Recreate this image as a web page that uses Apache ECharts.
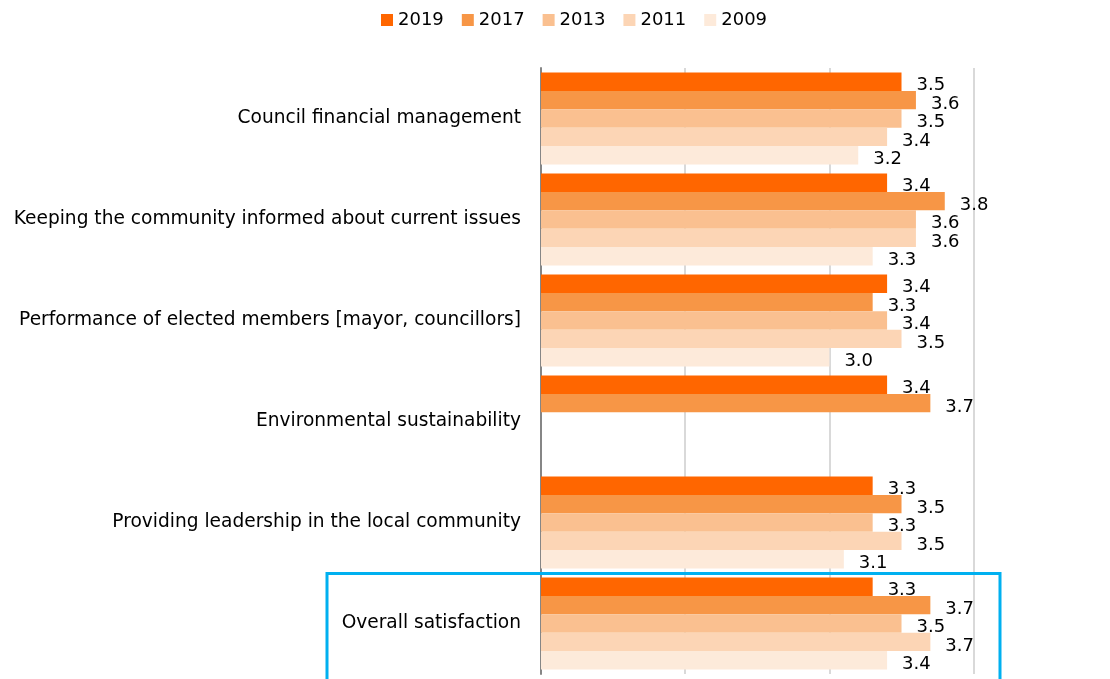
<!DOCTYPE html>
<html>
<head>
<meta charset="utf-8">
<style>
  html, body { margin: 0; padding: 0; background: #fff; }
  #chart { width: 1110px; height: 679px; }
</style>
<script src="https://cdn.jsdelivr.net/npm/echarts@6/dist/echarts.min.js"></script>
</head>
<body>
<div id="chart"></div>
<script>
// Satisfaction ratings by survey year
const categories = [
  'Council financial management',
  'Keeping the community informed about current issues',
  'Performance of elected members [mayor, councillors]',
  'Environmental sustainability',
  'Providing leadership in the local community',
  'Overall satisfaction'
];
const years = ['2019', '2017', '2013', '2011', '2009'];
const v2019 = [3.5, 3.4, 3.4, 3.4, 3.3, 3.3];
const v2017 = [3.6, 3.8, 3.3, 3.7, 3.5, 3.7];
const v2013 = [3.5, 3.6, 3.4, null, 3.3, 3.5];
const v2011 = [3.4, 3.6, 3.5, null, 3.5, 3.7];
const v2009 = [3.2, 3.3, 3.0, null, 3.1, 3.4];

const seriesValues = [v2019, v2017, v2013, v2011, v2009];
const colors = ['#FF6600', '#F79646', '#FAC090', '#FCD5B5', '#FDEADA'];
const FONT = 'DejaVu Sans';

const chart = echarts.init(document.getElementById('chart'));

chart.setOption({
  animation: false,
  color: colors,
  textStyle: { fontFamily: FONT },
  legend: {
    top: 6,
    left: 376,
    icon: 'rect',
    itemWidth: 12,
    itemHeight: 12,
    itemGap: 18,
    textStyle: { fontSize: 18, color: '#000', fontFamily: FONT },
    data: years
  },
  grid: { left: 541, width: 562.4, top: 68, bottom: 5, containLabel: false },
  xAxis: {
    type: 'value',
    min: 1,
    max: 4.9,
    interval: 1,
    axisLabel: { show: false },
    axisTick: { show: false },
    axisLine: { show: false },
    splitLine: {
      show: true,
      showMinLine: false,
      showMaxLine: false,
      lineStyle: { color: '#D9D9D9', width: 2 }
    }
  },
  yAxis: {
    type: 'category',
    inverse: true,
    data: categories,
    axisTick: { show: false },
    axisLine: { show: true, lineStyle: { color: '#868686', width: 2 } },
    axisLabel: { fontSize: 18.6, color: '#000', margin: 20, fontFamily: FONT }
  },
  series: years.map((y, i) => ({
    name: y,
    type: 'bar',
    data: seriesValues[i],
    barGap: '0%',
    barCategoryGap: '9%',
    itemStyle: { color: colors[i] },
    label: {
      show: true,
      position: 'right',
      distance: 15,
      offset: [0, 4],
      fontSize: 18,
      color: '#000',
      fontFamily: FONT,
      formatter: p => p.value == null ? '' : Number(p.value).toFixed(1)
    }
  })),
  graphic: [{
    type: 'rect',
    z: 100,
    shape: { x: 327, y: 573.5, width: 673, height: 130 },
    style: { fill: 'none', stroke: '#00B0F0', lineWidth: 3 }
  }]
});
</script>
</body>
</html>
